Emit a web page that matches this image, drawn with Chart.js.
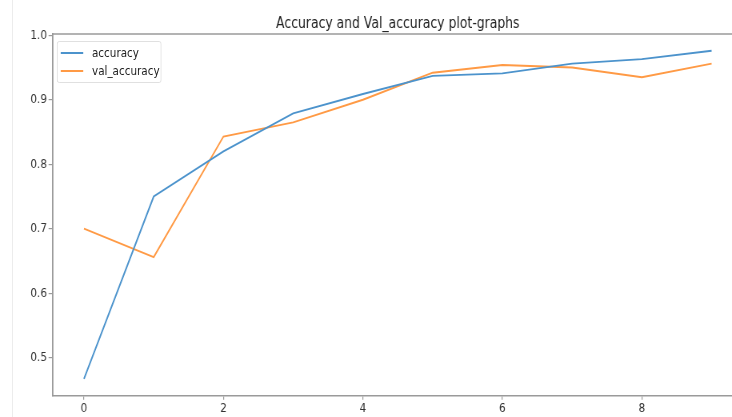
<!DOCTYPE html>
<html>
<head>
<meta charset="utf-8">
<script src="https://cdn.jsdelivr.net/npm/chart.js@4.4.0/dist/chart.umd.min.js"></script>
<style>
  html, body { margin: 0; padding: 0; background: #fff; overflow: hidden; }
  #page { position: relative; width: 732px; height: 417px; overflow: hidden; }
  #edge { position: absolute; left: 12px; top: 0; width: 1px; height: 417px; background: #ececec; }
  /* the source picture is squeezed sideways, so the whole figure is drawn wide and scaled */
  #wrap { position: absolute; left: 0; top: 0; width: 995px; height: 417px; transform: scaleX(0.8); transform-origin: 0 0; }
  #legend {
    position: absolute; left: 71px; top: 41px; width: 129px; height: 40px;
    border: 1px solid #dddddd; border-radius: 3px; background: rgba(255,255,255,0.85);
    font-family: "DejaVu Sans", sans-serif; font-size: 13px; color: #222;
  }
  .row { position: absolute; left: 0; height: 18px; line-height: 18px; }
  .row span.sw { position: absolute; left: 4px; top: 8px; width: 28px; height: 2px; }
  .row span.tx { position: absolute; left: 43px; white-space: nowrap; }
</style>
</head>
<body>
<div id="page">
  <div id="edge"></div>
  <div id="wrap">
    <canvas id="chart" width="995" height="417"></canvas>
    <div id="legend"></div>
  </div>
</div>
<script>
const epochs = [0, 1, 2, 3, 4, 5, 6, 7, 8, 9];
const accuracy = [0.467, 0.750, 0.820, 0.879, 0.909, 0.937, 0.941, 0.956, 0.963, 0.976];
const valAccuracy = [0.700, 0.656, 0.843, 0.865, 0.900, 0.942, 0.954, 0.950, 0.935, 0.956];
const xTicks = [0, 2, 4, 6, 8];
const yTicks = [0.5, 0.6, 0.7, 0.8, 0.9, 1.0];
const seriesNames = ['accuracy', 'val_accuracy'];
const seriesColors = ['#4c93cc', '#ff9a45'];
const titleText = 'Accuracy and Val_accuracy plot-graphs';

const spineColor = '#9a9a9a';
const tickFont = { family: 'DejaVu Sans', size: 13 };

// top spine (right spine is cropped out of the picture) and the title, centred over the axes box
const frame = {
  id: 'frame',
  afterDraw(chart) {
    const { ctx, chartArea } = chart;
    ctx.save();
    ctx.strokeStyle = spineColor;
    ctx.lineWidth = 1.5;
    ctx.beginPath();
    ctx.moveTo(chartArea.left, chartArea.top);
    ctx.lineTo(chartArea.right + 80, chartArea.top);
    ctx.stroke();
    ctx.fillStyle = '#222';
    ctx.font = '15.5px "DejaVu Sans"';
    ctx.textAlign = 'center';
    ctx.textBaseline = 'middle';
    ctx.fillText(titleText, (chartArea.left + chartArea.right) / 2, 24);
    ctx.restore();
  }
};

const ctx = document.getElementById('chart').getContext('2d');
const chart = new Chart(ctx, {
  type: 'line',
  data: {
    datasets: [
      {
        label: seriesNames[0],
        data: epochs.map((e, i) => ({ x: e, y: accuracy[i] })),
        borderColor: seriesColors[0],
        borderWidth: 1.9,
        pointRadius: 0,
        tension: 0
      },
      {
        label: seriesNames[1],
        data: epochs.map((e, i) => ({ x: e, y: valAccuracy[i] })),
        borderColor: seriesColors[1],
        borderWidth: 1.9,
        pointRadius: 0,
        tension: 0
      }
    ]
  },
  options: {
    responsive: false,
    animation: false,
    layout: { padding: { left: 0, right: 66.25, top: 34, bottom: 0 } },
    plugins: {
      legend: { display: false },
      tooltip: { enabled: false },
      title: { display: false }
    },
    scales: {
      x: {
        type: 'linear',
        min: -0.45,
        max: 9.45,
        afterBuildTicks: (scale) => { scale.ticks = xTicks.map(v => ({ value: v })); },
        afterFit: (scale) => { scale.height = 21.3; },
        ticks: { color: '#333', font: tickFont, padding: 1, maxRotation: 0 },
        grid: { display: true, drawOnChartArea: false, drawTicks: true, tickLength: 4, color: spineColor, lineWidth: 1.2 },
        border: { display: true, color: spineColor, width: 1.5 }
      },
      y: {
        type: 'linear',
        min: 0.441,
        max: 1.002,
        afterBuildTicks: (scale) => { scale.ticks = yTicks.map(v => ({ value: v })); },
        afterFit: (scale) => { scale.width = 65.75; },
        ticks: { color: '#333', font: tickFont, padding: 2, callback: (v) => v.toFixed(1) },
        grid: { display: true, drawOnChartArea: false, drawTicks: true, tickLength: 5, color: spineColor, lineWidth: 1.2 },
        border: { display: true, color: spineColor, width: 1.8 }
      }
    }
  },
  plugins: [frame]
});

// legend box inside the axes, upper left
const legend = document.getElementById('legend');
seriesNames.forEach((name, i) => {
  const row = document.createElement('div');
  row.className = 'row';
  row.style.top = (2 + i * 18) + 'px';
  row.innerHTML = '<span class="sw" style="background:' + seriesColors[i] + '"></span><span class="tx">' + name + '</span>';
  legend.appendChild(row);
});
</script>
</body>
</html>
